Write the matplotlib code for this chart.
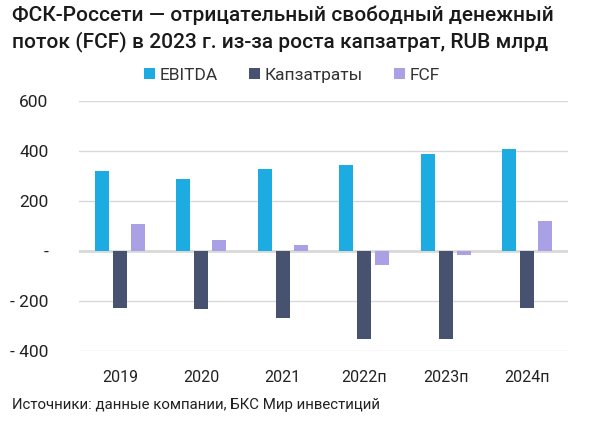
import matplotlib
matplotlib.use("Agg")
import matplotlib.pyplot as plt
import numpy as np

categories = ["2019", "2020", "2021", "2022п", "2023п", "2024п"]
ebitda = [320, 287, 326, 343, 387, 405]
capex = [-230, -235, -268, -352, -354, -228]
fcf = [107, 42, 24, -56, -16, 118]
series_names = ["EBITDA", "Капзатраты", "FCF"]
colors = ["#1CACE2", "#475270", "#A9A0E6"]
yticks = [-400, -200, 0, 200, 400, 600]
ytick_labels = ["- 400", "- 200", "-", "200", "400", "600"]

plt.rcParams['font.family'] = ['Roboto', 'DejaVu Sans']

fig = plt.figure(figsize=(6, 4.25), dpi=100)
ax = fig.add_axes([0.1317, 0.1748, 0.815, 0.5882])

x = np.arange(len(categories))
w = 0.17
off = 0.22
for i, (vals, name, c) in enumerate(zip([ebitda, capex, fcf], series_names, colors)):
    ax.bar(x + (i - 1) * off, vals, width=w, color=c, label=name, zorder=3)

ax.set_xlim(-0.5, len(categories) - 0.5)
ax.set_ylim(-400, 600)
ax.set_yticks(yticks)
ax.set_yticklabels(ytick_labels)
ax.set_xticks(x)
ax.set_xticklabels(categories)
ax.tick_params(axis='both', length=0, colors="#222222")
ax.tick_params(axis='x', labelsize=11.5, pad=14)
ax.tick_params(axis='y', labelsize=12.5, pad=22)
for lab in ax.get_yticklabels():
    lab.set_horizontalalignment('right')
ax.yaxis.grid(True, color="#D9D9D9", linewidth=1.0, zorder=0)
ax.axhline(0, color="#D9D9D9", linewidth=2.0, zorder=2)
for s in ax.spines.values():
    s.set_visible(False)

fig.text(0.02, 0.965, "ФСК-Россети — отрицательный свободный денежный", fontsize=15,
         fontweight='medium', va='center', ha='left', color="#1a1a1a")
fig.text(0.02, 0.902, "поток (FCF) в 2023 г. из-за роста капзатрат, RUB млрд", fontsize=15,
         fontweight='medium', va='center', ha='left', color="#1a1a1a")

leg = fig.legend(loc='center', bbox_to_anchor=(0.487, 0.823), ncol=3, frameon=False,
                 fontsize=12.5, handlelength=0.6, handleheight=0.6, handletextpad=0.3,
                 columnspacing=1.8)
for t in leg.get_texts():
    t.set_color("#333333")

fig.text(0.02, 0.047, "Источники: данные компании, БКС Мир инвестиций", fontsize=10.8,
         va='center', ha='left', color="#222222")

fig.savefig("out.png", dpi=100)
